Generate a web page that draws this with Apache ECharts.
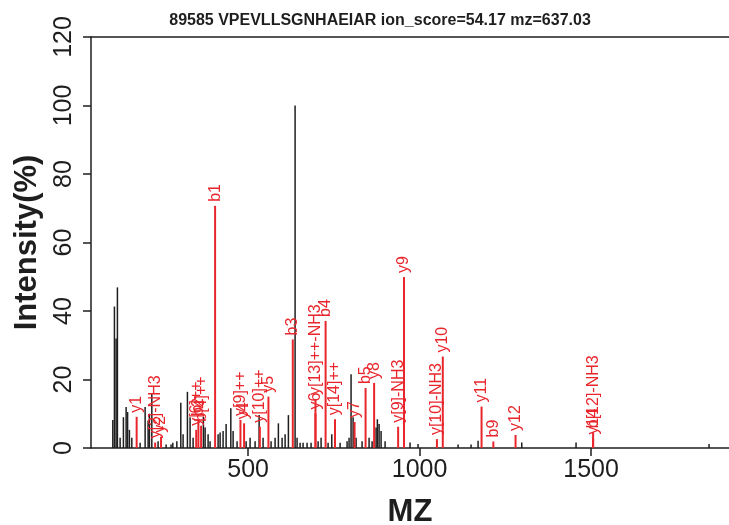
<!DOCTYPE html>
<html>
<head>
<meta charset="utf-8">
<script src="https://cdn.jsdelivr.net/npm/echarts@6/dist/echarts.min.js"></script>
<style>
  html, body { margin: 0; padding: 0; background: #fff; }
  #container { width: 729px; height: 525px; }
</style>
</head>
<body>
<div id="container"></div>
<script>
var FONT = '"Liberation Sans", Arial, Helvetica, sans-serif';
var RED = '#e8262c';
var INK = '#1e1e1e';

var titleText = '89585 VPEVLLSGNHAEIAR ion_score=54.17 mz=637.03';
var xTicks = [500, 1000, 1500];

// unmatched peaks (black)
var peakMz = [
  105.6, 110.3, 115.2, 119.0, 126.9, 136.5, 144.4, 148.7, 154.0, 161.0,
  185.2, 199.8, 208.5, 212.3, 219.3, 237.6, 261.0, 275.5, 280.5, 292.2,
  303.8, 310.5, 323.1, 330.9, 339.7, 369.7, 374.7, 383.4, 389.2, 412.6,
  418.4, 427.1, 435.9, 449.6, 456.3, 467.9, 494.2, 505.8, 520.4, 532.1,
  543.7, 567.0, 578.7, 588.3, 599.1, 607.9, 617.5, 637.0, 642.8, 651.6,
  660.3, 672.0, 683.6, 704.1, 712.8, 733.2, 744.0, 768.2, 788.6, 794.4,
  800.2, 806.1, 814.8, 832.3, 852.7, 861.5, 873.1, 876.9, 881.9, 887.7,
  899.4, 972.2, 995.5, 1112.2, 1150.0, 1170.5, 1297.8, 1456.1, 1843.8
];
var peakInt = [
  8.2, 41.3, 32, 46.9, 3, 9, 12, 10.5, 5.3, 3,
  1.5, 12, 8, 10, 16, 2, 1, 1, 1.5, 2,
  13.2, 4, 16.4, 9, 3, 9.1, 6, 4, 2, 4,
  4.5, 5, 7, 11.6, 5, 2, 2, 3, 2, 9.6,
  3, 2, 3, 7.2, 3, 4, 9.6, 100, 3, 1.5,
  1.5, 1.5, 1.5, 2, 3, 1.5, 4, 1.5, 2, 3,
  21.5, 9, 3, 2, 3, 2, 6, 8.4, 7, 5,
  2, 1.6, 1.2, 1, 1, 2.1, 1.6, 1.6, 1.2
];

// matched fragment ions (red)
var ionName = [
  'y1', 'y[2]-NH3', 'y2', 'y[6]++', 'b2', 'b[4]++', 'b1', 'y[9]++', 'y4', 'y[10]++',
  'y5', 'b3', 'y6', 'y[13]++-NH3', 'b4', 'y[14]++', 'y7', 'b5', 'y8', 'y[9]-NH3',
  'y9', 'y[10]-NH3', 'y10', 'y11', 'b9', 'y12', 'y14', 'b[12]-NH3'
];
var ionMz = [
  175.1, 229.1, 246.2, 348.7, 355.1, 363.0, 403.8, 477.7, 488.3, 534.3,
  559.3, 630.3, 696.4, 696.4, 725.9, 753.4, 810.4, 842.5, 867.4, 937.4,
  954.5, 1050.5, 1067.6, 1180.6, 1215.0, 1279.7, 1505.8, 1505.8
];
var ionInt = [
  9.1, 1.6, 3.3, 5.3, 8.2, 6.5, 70.7, 8.2, 7.2, 6.2,
  15, 31.7, 10.1, 14.3, 37.1, 8.4, 7.6, 17.5, 19, 6.2,
  49.9, 2.6, 26.7, 12.1, 1.9, 3.8, 2.8, 4.6
];

function pairs(xs, ys) {
  return xs.map(function (x, i) { return [x, ys[i]]; });
}

function stickRenderer(color, width, names) {
  return function (params, api) {
    var base = api.coord([api.value(0), 0]);
    var top = api.coord([api.value(0), api.value(1)]);
    var children = [{
      type: 'line',
      shape: { x1: base[0], y1: base[1], x2: top[0], y2: top[1] },
      style: { stroke: color, lineWidth: width }
    }];
    if (names) {
      children.push({
        type: 'text',
        x: top[0],
        y: top[1] - 4,
        rotation: Math.PI / 2,
        style: {
          text: names[params.dataIndex],
          fill: color,
          font: '16px ' + FONT,
          align: 'left',
          verticalAlign: 'middle'
        }
      });
    }
    return { type: 'group', children: children };
  };
}

var myChart = echarts.init(document.getElementById('container'), null, { renderer: 'canvas' });

myChart.setOption({
  animation: false,
  title: {
    text: titleText,
    left: 375,
    top: 8,
    textAlign: 'center',
    textStyle: { fontFamily: FONT, fontSize: 16, fontWeight: 'bold', color: INK }
  },
  grid: { left: 91, top: 37, right: 0, bottom: 77, outerBoundsMode: 'none', containLabel: false },
  xAxis: [{
    type: 'value',
    position: 'bottom',
    min: 42,
    max: 1902,
    name: 'MZ',
    nameLocation: 'middle',
    nameGap: 49,
    nameTextStyle: { fontFamily: FONT, fontSize: 31, fontWeight: 'bold', color: INK },
    axisLine: { show: true, onZero: false, lineStyle: { color: INK, width: 1.5 } },
    axisTick: { show: true, customValues: xTicks, length: 8, lineStyle: { color: INK, width: 1.5 } },
    axisLabel: {
      customValues: xTicks,
      formatter: function (v) { return String(v); },
      fontFamily: FONT, fontSize: 25, color: INK, margin: 10
    },
    splitLine: { show: false }
  }, {
    type: 'value',
    position: 'top',
    min: 42,
    max: 1902,
    axisLine: { show: true, onZero: false, lineStyle: { color: INK, width: 1.5 } },
    axisTick: { show: false },
    axisLabel: { show: false },
    splitLine: { show: false }
  }],
  yAxis: {
    type: 'value',
    min: 0,
    max: 120,
    interval: 20,
    name: 'Intensity(%)',
    nameLocation: 'middle',
    nameGap: 48,
    nameTextStyle: { fontFamily: FONT, fontSize: 31, fontWeight: 'bold', color: INK },
    axisLine: { show: true, lineStyle: { color: INK, width: 1.5 } },
    axisTick: { show: true, length: 8, lineStyle: { color: INK, width: 1.5 } },
    axisLabel: { rotate: 90, fontFamily: FONT, fontSize: 25, color: INK, margin: 14 },
    splitLine: { show: false }
  },
  series: [{
    type: 'custom',
    name: 'peaks',
    xAxisIndex: 0,
    renderItem: stickRenderer(INK, 1.5, null),
    data: pairs(peakMz, peakInt),
    z: 2
  }, {
    type: 'custom',
    name: 'ions',
    xAxisIndex: 0,
    renderItem: stickRenderer(RED, 2, ionName),
    data: pairs(ionMz, ionInt),
    z: 3
  }]
});
</script>
</body>
</html>
